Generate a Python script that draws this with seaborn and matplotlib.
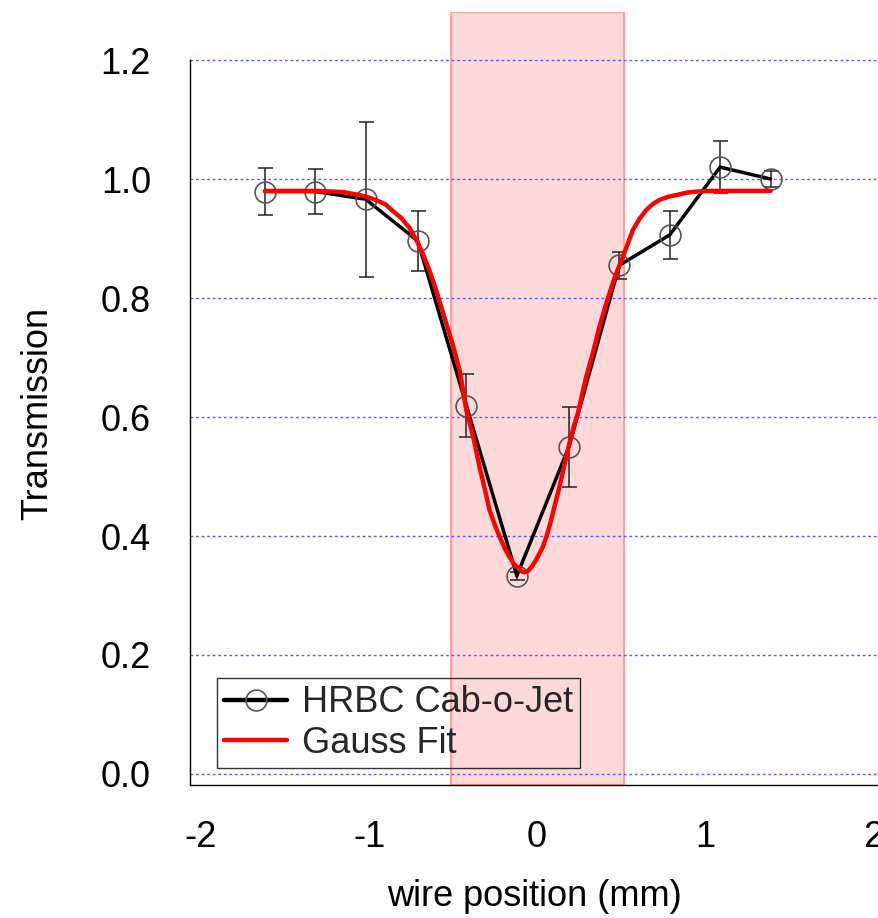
import matplotlib
matplotlib.use("Agg")
import matplotlib.pyplot as plt
from matplotlib.lines import Line2D
import seaborn as sns
import pandas as pd

# Measured wire-scan transmission
wire_pos = [-1.62, -1.32, -1.02, -0.71, -0.42, -0.12, 0.19, 0.49, 0.79, 1.09, 1.39]
transmission = [0.979, 0.979, 0.966, 0.896, 0.619, 0.333, 0.550, 0.855, 0.906, 1.020, 1.000]
trans_err = [0.039, 0.037, 0.130, 0.050, 0.053, 0.007, 0.067, 0.023, 0.041, 0.044, 0.014]

# Gaussian fit curve
fit_x = [-1.62, -1.45, -1.30, -1.15, -1.057, -1.00, -0.938, -0.90, -0.858, -0.81,
         -0.759, -0.72, -0.680, -0.64, -0.600, -0.540, -0.50, -0.461, -0.421, -0.38,
         -0.342, -0.31, -0.283, -0.25, -0.223, -0.19, -0.164, -0.14, -0.104, -0.080,
         -0.055, -0.030, -0.005, 0.010, 0.035, 0.055, 0.074, 0.100, 0.134, 0.160,
         0.193, 0.220, 0.243, 0.293, 0.330, 0.372, 0.410, 0.451, 0.470, 0.511,
         0.540, 0.570, 0.610, 0.650, 0.690, 0.729, 0.780, 0.829, 0.890, 0.950,
         1.030, 1.100, 1.250, 1.390]
fit_y = [0.980, 0.980, 0.980, 0.978, 0.973, 0.969, 0.962, 0.957, 0.946, 0.935,
         0.918, 0.898, 0.875, 0.846, 0.813, 0.757, 0.720, 0.679, 0.612, 0.567,
         0.516, 0.478, 0.444, 0.418, 0.399, 0.378, 0.365, 0.354, 0.343, 0.339,
         0.341, 0.349, 0.360, 0.368, 0.382, 0.398, 0.416, 0.445, 0.483, 0.515,
         0.556, 0.585, 0.606, 0.668, 0.705, 0.752, 0.789, 0.825, 0.840, 0.869,
         0.891, 0.914, 0.933, 0.948, 0.958, 0.965, 0.970, 0.973, 0.977, 0.979,
         0.980, 0.980, 0.980, 0.980]

# Highlighted wire region (mm)
region_lo, region_hi = -0.51, 0.515

x_ticks = [-2, -1, 0, 1, 2]
x_ticklabels = ["-2", "-1", "0", "1", "2"]
y_ticks = [0.0, 0.2, 0.4, 0.6, 0.8, 1.0, 1.2]
y_ticklabels = ["0.0", "0.2", "0.4", "0.6", "0.8", "1.0", "1.2"]

sns.set_style("white")
plt.rcParams["font.family"] = ["Liberation Sans", "DejaVu Sans"]
plt.rcParams["axes.unicode_minus"] = False

FS = 26

fig = plt.figure(figsize=(8.79, 9.18), dpi=100)
W, H = 879, 918
ax = fig.add_axes([190 / W, (H - 785) / H, (W - 190) / W, (785 - 12) / H])

data = pd.DataFrame({"pos": wire_pos, "T": transmission, "err": trans_err})
fit = pd.DataFrame({"x": fit_x, "y": fit_y})

ax.axvspan(region_lo, region_hi, facecolor="#ffd9d9", edgecolor="#ffa0a0",
           linewidth=1.6, zorder=0.3)

ax.errorbar(data["pos"], data["T"], yerr=data["err"], fmt="none",
            ecolor="#222222", elinewidth=1.1, capsize=5.4, capthick=1.1, zorder=2)

sns.lineplot(data=data, x="pos", y="T", ax=ax, color="black", linewidth=2.5,
             marker="o", markersize=15, markerfacecolor="none",
             markeredgecolor="#555555", markeredgewidth=1.2, zorder=2.5,
             sort=False, legend=False)
sns.lineplot(data=fit, x="x", y="y", ax=ax, color="#ff0000", linewidth=3.2,
             zorder=3, sort=False, legend=False)

ax.set_xlim(-2.0655, 2.0357)
ax.set_ylim(-0.0185, 1.2807)

ax.set_xticks(x_ticks)
ax.set_xticklabels(x_ticklabels)
ax.set_yticks(y_ticks)
ax.set_yticklabels(y_ticklabels)

ax.yaxis.grid(True, color="#5a5aff", linestyle=(0, (2, 2)), linewidth=1.0)
ax.xaxis.grid(False)
ax.set_axisbelow(True)

for s in ["top", "right"]:
    ax.spines[s].set_visible(False)
for s in ["left", "bottom"]:
    ax.spines[s].set_color("black")
    ax.spines[s].set_linewidth(1.0)
ax.spines["left"].set_bounds(-0.0185, 1.2)

ax.tick_params(axis="both", direction="out", length=19, width=1.0,
               color="black", labelsize=FS, labelcolor="black")
ax.tick_params(axis="y", pad=9)
ax.tick_params(axis="x", pad=6)

ax.set_xlabel("wire position (mm)", fontsize=FS, color="black")
ax.set_ylabel("Transmission", fontsize=FS, color="black")
ax.yaxis.set_label_coords(-0.195, 0.481)
ax.xaxis.set_label_coords(0.5, -0.122)

handles = [
    Line2D([], [], color="black", linewidth=3.2, marker="o", markersize=15,
           markerfacecolor="none", markeredgecolor="#555555", markeredgewidth=1.2),
    Line2D([], [], color="#ff0000", linewidth=3.2),
]
leg = ax.legend(handles, ["HRBC Cab-o-Jet", "Gauss Fit"], loc="lower left",
                bbox_to_anchor=(217 / W, (H - 768) / H), bbox_transform=fig.transFigure,
                borderaxespad=0, fontsize=FS, frameon=True, fancybox=False,
                handlelength=1.75, handletextpad=0.4, borderpad=0.2,
                labelspacing=0.15)
frame = leg.get_frame()
frame.set_facecolor("none")
frame.set_edgecolor("black")
frame.set_linewidth(1.0)
leg.set_zorder(0.35)

fig.savefig("out.png", dpi=100)
